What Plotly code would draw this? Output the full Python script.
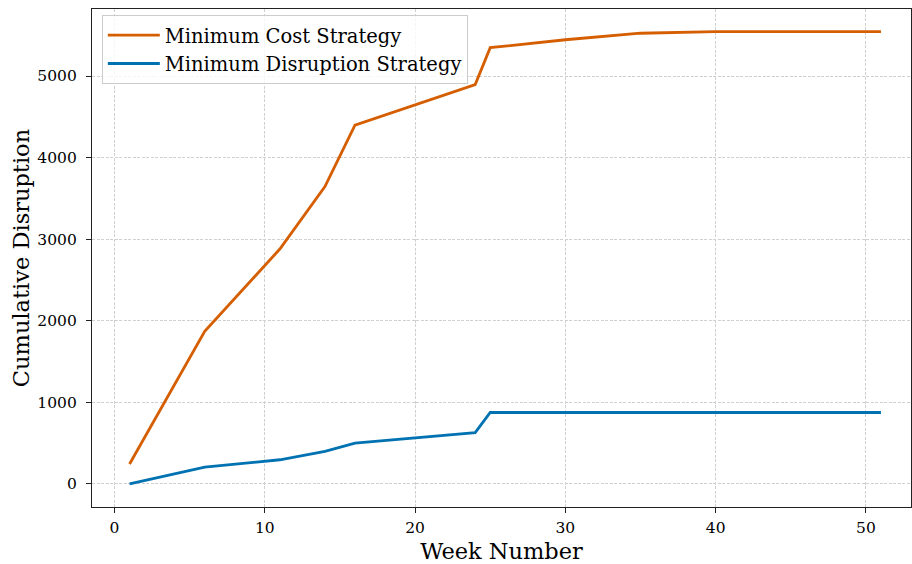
import plotly.graph_objects as go

weeks_cost = [1, 6, 11, 14, 16, 24, 25, 30, 35, 40, 51]
cost_values = [245, 1870, 2880, 3645, 4398, 4895, 5348, 5445, 5525, 5545, 5545]

weeks_disr = [1, 6, 11, 14, 16, 24, 25, 51]
disr_values = [0, 207, 297, 400, 500, 630, 876, 876]

x_ticks = [0, 10, 20, 30, 40, 50]
y_ticks = [0, 1000, 2000, 3000, 4000, 5000]

FONT = "DejaVu Serif"

fig = go.Figure()
fig.add_trace(go.Scatter(x=weeks_cost, y=cost_values, mode="lines",
                         name="Minimum Cost Strategy",
                         line=dict(color="#D55E00", width=2.8)))
fig.add_trace(go.Scatter(x=weeks_disr, y=disr_values, mode="lines",
                         name="Minimum Disruption Strategy",
                         line=dict(color="#0072B2", width=2.8)))

axis_common = dict(
    showline=True, linecolor="#222222", linewidth=1.2, mirror=True,
    ticks="outside", ticklen=5, tickwidth=1, tickcolor="#222222",
    showgrid=True, gridcolor="#d0d0d0", gridwidth=0.8, griddash="3px,1.5px",
    zeroline=False, automargin=False,
    tickfont=dict(family=FONT, size=15.5, color="black"),
)

fig.update_xaxes(range=[-1.5, 53.0], tickvals=x_ticks, ticklabelstandoff=1,
                 title=dict(text="Week Number", font=dict(family=FONT, size=22.5, color="black"), standoff=8),
                 **axis_common)
fig.update_yaxes(range=[-282, 5822], tickvals=y_ticks, ticklabelstandoff=6,
                 title=dict(text="Cumulative Disruption", font=dict(family=FONT, size=22.5, color="black"), standoff=1),
                 **axis_common)

fig.update_layout(
    width=912, height=564,
    margin=dict(l=92, r=1, t=9, b=57),
    paper_bgcolor="white", plot_bgcolor="white",
    font=dict(family=FONT, color="black"),
    showlegend=True,
    legend=dict(x=0.012, y=0.988, xanchor="left", yanchor="top",
                bgcolor="rgba(255,255,255,0.8)", bordercolor="#cccccc", borderwidth=1,
                font=dict(family=FONT, size=19.5, color="black"),
                tracegroupgap=0, itemwidth=52),
)

fig.write_html(
    "out.html",
    config={"displayModeBar": False},
    post_script="document.body.style.margin='0px';document.documentElement.style.overflow='hidden';",
)
